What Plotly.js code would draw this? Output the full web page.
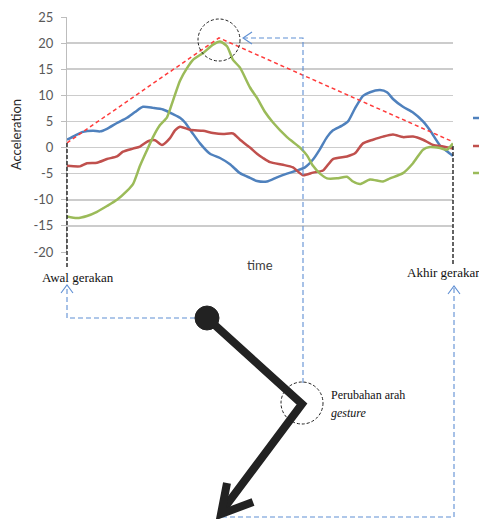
<!DOCTYPE html>
<html>
<head>
<meta charset="utf-8">
<script src="https://cdn.plot.ly/plotly-3.0.1.min.js"></script>
<style>html,body{margin:0;padding:0;background:#fff;}#chart{width:479px;height:519px;}</style>
</head>
<body>
<div id="chart"></div>
<script>
// ---- data (time in samples, acceleration values) ----
const blueTime = [0,8,16,26,33,40,50,60,68,76,86,96,106,113,118,125,133,143,153,163,173,183,190,200,210,220,230,238,246,253,260,266,275,281,288,296,303,313,320,326,336,346,356,363,373,380,386];
const blueAcc  = [1.5,2.3,3.0,3.2,3.1,3.6,4.7,5.7,6.8,7.8,7.6,7.3,6.4,5.7,4.8,2.9,0.8,-1.2,-2.0,-3.2,-4.9,-5.8,-6.4,-6.5,-5.7,-5.0,-4.4,-3.8,-2.3,-0.3,2.0,3.3,4.2,5.0,7.5,9.9,10.6,11.0,10.6,9.3,7.8,6.7,5.0,3.3,0.4,-0.7,-1.6];

const redTime = [0,13,20,30,40,50,56,66,73,81,88,95,103,108,113,123,136,146,156,166,173,183,190,196,203,216,226,236,246,256,266,280,288,296,306,316,326,336,346,356,366,376,386];
const redAcc  = [-3.5,-3.6,-3.0,-2.9,-2.2,-1.7,-0.8,-0.2,0.2,1.2,1.4,0.5,1.8,3.3,4.0,3.4,3.2,2.8,2.6,2.7,1.5,0.0,-1.2,-2.0,-2.8,-3.3,-3.8,-5.3,-4.8,-4.4,-2.2,-1.7,-1.1,0.8,1.5,2.1,2.5,2.0,2.1,1.5,0.5,0.2,-0.2];

const greenTime = [0,10,20,30,40,50,60,66,73,80,86,93,100,106,113,120,126,136,146,153,160,166,173,183,190,198,206,220,233,240,246,253,260,270,280,286,293,303,316,323,336,346,356,363,373,380,386];
const greenAcc  = [-13.2,-13.5,-13.1,-12.3,-11.2,-10.0,-8.3,-7.0,-3.5,-0.5,2.0,4.3,5.8,9.0,12.8,15.2,16.8,18.1,19.7,20.3,19.4,16.8,15.3,11.5,9.5,6.8,4.8,2.0,0.0,-1.5,-3.5,-5.0,-5.9,-5.9,-5.6,-6.5,-7.0,-6.1,-6.5,-5.9,-4.9,-3.0,-0.4,0.1,-0.1,-0.4,0.8];

const envelopeTime = [0,152,386];
const envelopeAcc  = [0.9,21.0,1.1];

const yTicks = [-20,-15,-10,-5,0,5,10,15,20,25];

// ---- layout helpers (pixel -> paper) ----
const L = 67, T = 17, W = 386, H = 235;
const X = p => (p - L) / W;
const Y = p => (T + H - p) / H;
const pathPx = pts => pts.map((pt,i)=> (i? 'L':'M') + X(pt[0]).toFixed(4) + ',' + Y(pt[1]).toFixed(4)).join(' ');

const blueC = '#4F81BD', redC = '#C0504D', greenC = '#9BBB59';
const arrowBlue = '#5f8fd3';

const traces = [
  {x: blueTime, y: blueAcc, mode:'lines', line:{color:blueC, width:2.5, shape:'spline', smoothing:0.6}, showlegend:false, hoverinfo:'skip'},
  {x: redTime, y: redAcc, mode:'lines', line:{color:redC, width:2.5, shape:'spline', smoothing:0.6}, showlegend:false, hoverinfo:'skip'},
  {x: greenTime, y: greenAcc, mode:'lines', line:{color:greenC, width:2.5, shape:'spline', smoothing:0.6}, showlegend:false, hoverinfo:'skip'},
  {x: envelopeTime, y: envelopeAcc, mode:'lines', line:{color:'#ff3b3b', width:1.5, dash:'4px,3px'}, showlegend:false, hoverinfo:'skip'}
];

const shapes = [
  // black dashed start / end markers
  {type:'line', xref:'paper', yref:'paper', x0:X(67), x1:X(67), y0:Y(143), y1:Y(268), line:{color:'#222', width:1.4, dash:'4px,2px'}},
  {type:'line', xref:'paper', yref:'paper', x0:X(453), x1:X(453), y0:Y(146), y1:Y(266), line:{color:'#222', width:1.4, dash:'4px,2px'}},
  // dashed circle at peak
  {type:'circle', xref:'paper', yref:'paper', x0:X(198), x1:X(240), y0:Y(61), y1:Y(19), line:{color:'#222', width:1, dash:'3px,2px'}},
  // blue dashed arrow from turn to peak
  {type:'path', xref:'paper', yref:'paper', path: pathPx([[303,383],[303,38],[244,38]]), line:{color:arrowBlue, width:1.1, dash:'5px,3px'}},
  {type:'path', xref:'paper', yref:'paper', path: pathPx([[252,32],[243,38],[252,44]]), line:{color:arrowBlue, width:1.1}},
  // blue dashed arrow to Awal gerakan
  {type:'path', xref:'paper', yref:'paper', path: pathPx([[203,318],[67,318],[67,287]]), line:{color:arrowBlue, width:1.1, dash:'5px,3px'}},
  {type:'path', xref:'paper', yref:'paper', path: pathPx([[61,293],[67,285],[73,293]]), line:{color:arrowBlue, width:1.1}},
  // blue dashed arrow to Akhir gerakan
  {type:'path', xref:'paper', yref:'paper', path: pathPx([[222,517],[454,517],[454,288]]), line:{color:arrowBlue, width:1.1, dash:'5px,3px'}},
  {type:'path', xref:'paper', yref:'paper', path: pathPx([[448,294],[454,286],[460,294]]), line:{color:arrowBlue, width:1.1}},
  // gesture path
  {type:'path', xref:'paper', yref:'paper', path: pathPx([[207,318],[302,404],[222,511]]), line:{color:'#222', width:8}},
  {type:'path', xref:'paper', yref:'paper', path: pathPx([[227,483],[221,514],[253,502]]), line:{color:'#222', width:8}},
  {type:'circle', xref:'paper', yref:'paper', x0:X(195), x1:X(219), y0:Y(330), y1:Y(306), fillcolor:'#222', line:{color:'#222', width:1}},
  // dashed circle at the turn
  {type:'circle', xref:'paper', yref:'paper', x0:X(281), x1:X(323), y0:Y(424), y1:Y(382), line:{color:'#222', width:1, dash:'3px,2px'}},
  // clipped legend keys
  {type:'line', xref:'paper', yref:'paper', x0:X(473), x1:X(480), y0:Y(118), y1:Y(118), line:{color:blueC, width:2.5}},
  {type:'line', xref:'paper', yref:'paper', x0:X(473), x1:X(480), y0:Y(146), y1:Y(146), line:{color:redC, width:2.5}},
  {type:'line', xref:'paper', yref:'paper', x0:X(473), x1:X(480), y0:Y(173), y1:Y(173), line:{color:greenC, width:2.5}}
];

const serif = {family:'Liberation Serif, DejaVu Serif, serif', size:13, color:'#111'};
const annotations = [
  {text:'time', xref:'paper', yref:'paper', x:X(260), y:Y(265), showarrow:false, xanchor:'center', yanchor:'middle', font:{family:'Lato, sans-serif', size:13, color:'#404040'}},
  {text:'Awal gerakan', xref:'paper', yref:'paper', x:X(40), y:Y(277), showarrow:false, xanchor:'left', yanchor:'middle', font:serif},
  {text:'Akhir gerakan', xref:'paper', yref:'paper', x:X(405), y:Y(272), showarrow:false, xanchor:'left', yanchor:'middle', font:serif},
  {text:'Perubahan arah', xref:'paper', yref:'paper', x:X(329), y:Y(395), showarrow:false, xanchor:'left', yanchor:'middle', font:{family:serif.family, size:12, color:'#111'}},
  {text:'<i>gesture</i>', xref:'paper', yref:'paper', x:X(329), y:Y(413), showarrow:false, xanchor:'left', yanchor:'middle', font:{family:serif.family, size:12, color:'#111'}}
];

const layout = {
  width:479, height:519,
  margin:{l:L, r:479-L-W, t:T, b:519-T-H, pad:0},
  paper_bgcolor:'#fff', plot_bgcolor:'#fff',
  showlegend:false,
  xaxis:{range:[0,386], showgrid:false, zeroline:false, showline:false, showticklabels:false, ticks:'', fixedrange:true},
  yaxis:{range:[-20,25], tickvals:yTicks, ticktext:yTicks.map(String), showgrid:true, gridcolor:'#cccccc', gridwidth:1.5,
         zeroline:false, showline:true, linecolor:'#bdbdbd', linewidth:1, ticks:'outside', ticklen:5, tickcolor:'#bdbdbd',
         ticklabelstandoff:5,
         tickfont:{family:'Lato, sans-serif', size:13, color:'#595959'},
         title:{text:'Acceleration', standoff:8, font:{family:'Lato, sans-serif', size:13, color:'#262626'}}, fixedrange:true},
  shapes: shapes,
  annotations: annotations
};

Plotly.newPlot('chart', traces, layout, {staticPlot:true, displayModeBar:false});
</script>
</body>
</html>
